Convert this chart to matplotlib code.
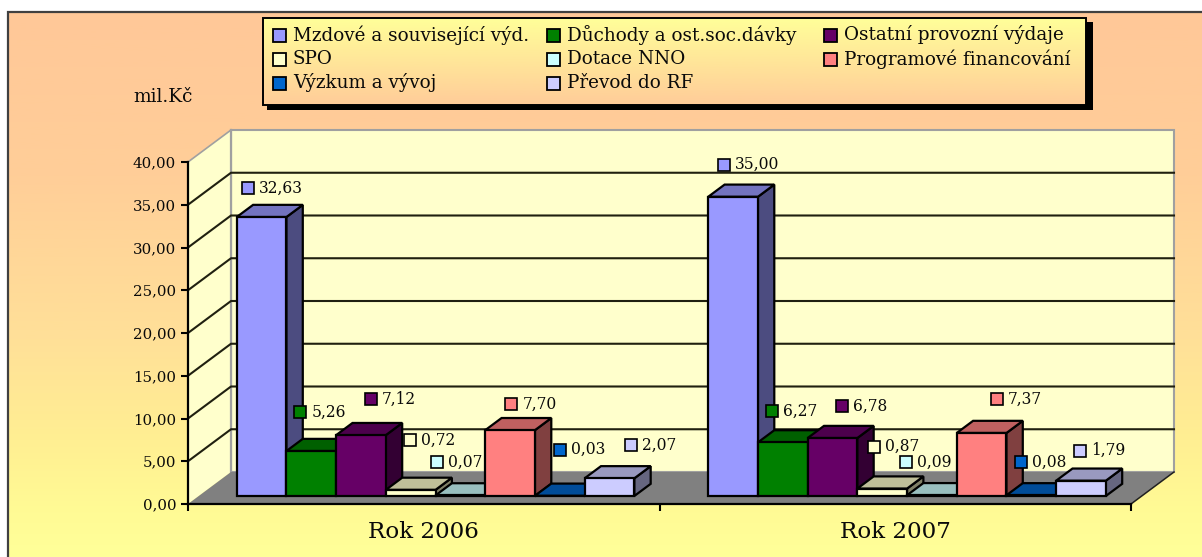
import numpy as np
import matplotlib
matplotlib.use("Agg")
import matplotlib.pyplot as plt
from matplotlib.colors import LinearSegmentedColormap
from matplotlib.patches import Rectangle

years = ["Rok 2006", "Rok 2007"]
series_names = ["Mzdové a související výd.", "Důchody a ost.soc.dávky", "Ostatní provozní výdaje",
                "SPO", "Dotace NNO", "Programové financování", "Výzkum a vývoj", "Převod do RF"]
values_2006 = [32.63, 5.26, 7.12, 0.72, 0.07, 7.70, 0.03, 2.07]
values_2007 = [35.00, 6.27, 6.78, 0.87, 0.09, 7.37, 0.08, 1.79]
colors = ["#9999FF", "#008000", "#660066", "#FFFFCC", "#CCFFFF", "#FF8080", "#0066CC", "#CCCCFF"]
tops = ["#7373BF", "#006000", "#4C004C", "#BFBF99", "#99BFBF", "#BF6060", "#004C99", "#9999BF"]
sides = ["#4C4C80", "#004000", "#330033", "#808066", "#668080", "#804040", "#003366", "#666680"]
y_ticks = [0, 5, 10, 15, 20, 25, 30, 35, 40]

# label offsets from each bar's front-top-left corner, pixels (right, up)
label_off_2006 = [(11, 29), (14, 39), (35, 36), (24, 50), (1, 33), (26, 26), (25, 46), (46, 33)]
label_off_2007 = [(16, 32), (14, 31), (34, 32), (17, 42), (-1, 33), (40, 34), (15, 33), (24, 30)]

W, H = 1202, 557
FONT = "DejaVu Serif"
INK = "#0A0A0A"
px = 72 / 100  # points per pixel
fig = plt.figure(figsize=(W / 100, H / 100), dpi=100)
fig.patch.set_facecolor("white")

# page background
bg = fig.add_axes([0, 0, 1, 1], zorder=0)
bg.axis("off")
peach_yellow = LinearSegmentedColormap.from_list(
    "py", [(0, "#FFC898"), (0.3, "#FFCE98"), (0.6, "#FFE098"), (0.8, "#FFF092"), (0.92, "#FFFB95"), (1, "#FFFF99")])
grad = np.linspace(0, 1, 256).reshape(-1, 1)
bg.imshow(grad, cmap=peach_yellow, extent=[8, W, H, 12], aspect="auto")
bg.set_xlim(0, W); bg.set_ylim(H, 0)
bg.plot([8, 8, W], [H, 12, 12], color="#404040", lw=1.6, solid_joinstyle="miter")

# chart axes: front plane of the 3-D box
L, R, T, B = 188, 1131, 162, 504
ax = fig.add_axes([L / W, 1 - B / H, (R - L) / W, (B - T) / H], zorder=1)
ax.set_xlim(0, 2); ax.set_ylim(0, 40)
ax.patch.set_alpha(0)
xpx = (R - L) / 2   # pixels per category
ypx = (B - T) / 40  # pixels per unit
DX, DY = 43 / xpx, 32 / ypx

def proj(x, v, d):
    return x + d * DX, v + d * DY

def poly(points, **kw):
    xs, ys = zip(*[proj(*p) for p in points])
    ax.fill(xs, ys, clip_on=False, **kw)

WALL = "#FFFFCC"
GREY = "#A0A0A0"
poly([(0, 0, 1), (2, 0, 1), (2, 40, 1), (0, 40, 1)], fc=WALL, ec=GREY, lw=1.5, zorder=1)
poly([(0, 0, 0), (0, 0, 1), (0, 40, 1), (0, 40, 0)], fc=WALL, ec="none", zorder=1)
ax.plot(*zip(proj(0, 40, 0), proj(0, 40, 1)), color=GREY, lw=1.2, clip_on=False, zorder=1)
ax.plot(*zip(proj(0, 0, 1), proj(0, 40, 1)), color=GREY, lw=1.6, clip_on=False, zorder=2)
poly([(0, 0, 0), (2, 0, 0), (2, 0, 1), (0, 0, 1)], fc="#808080", ec="none", zorder=2)
ax.plot(*zip(proj(2, 0, 0), proj(2, 0, 1)), color="#202020", lw=1.1, clip_on=False, zorder=2)

for t in y_ticks[1:-1]:
    a, b, c = proj(0, t, 0), proj(0, t, 1), proj(2, t, 1)
    ax.plot([a[0], b[0], c[0]], [a[1], b[1], c[1]], color="#202010", lw=1.5, clip_on=False, zorder=2)

# bars
BW = 49.7 / xpx
X0 = (237 - L - 11) / xpx
D1, D2 = 0.25, 0.63
edge = dict(ec="black", lw=1.6, joinstyle="miter")
z = 3
groups = [(values_2006, label_off_2006), (values_2007, label_off_2007)]
for g, (vals, offs) in enumerate(groups):
    for j, v in enumerate(vals):
        x = g + X0 + j * BW
        poly([(x + BW, 0, D1), (x + BW, 0, D2), (x + BW, v, D2), (x + BW, v, D1)], fc=sides[j], zorder=z, **edge)
        poly([(x, v, D1), (x + BW, v, D1), (x + BW, v, D2), (x, v, D2)], fc=tops[j], zorder=z, **edge)
        poly([(x, 0, D1), (x + BW, 0, D1), (x + BW, v, D1), (x, v, D1)], fc=colors[j], zorder=z, **edge)
        z += 0.01
for g, (vals, offs) in enumerate(groups):
    for j, v in enumerate(vals):
        fx, fy = proj(g + X0 + j * BW, v, D1)
        mx, my = fx + offs[j][0] / xpx, fy + offs[j][1] / ypx
        ax.plot([mx], [my], marker="s", ms=8.2, mfc=colors[j], mec="black", mew=1.2,
                clip_on=False, zorder=6)
        ax.text(mx + 11 / xpx, my, f"{v:.2f}".replace(".", ","), family=FONT, fontsize=15.5 * px,
                va="center", ha="left", color=INK, clip_on=False, zorder=6)

# axes furniture
for s in ["top", "right"]:
    ax.spines[s].set_visible(False)
for s in ["left", "bottom"]:
    ax.spines[s].set_linewidth(1.6); ax.spines[s].set_zorder(5)
ax.set_yticks(y_ticks)
ax.set_yticklabels([f"{t:.2f}".replace(".", ",") for t in y_ticks], family=FONT, fontsize=15 * px, color=INK)
ax.set_xticks([0, 1, 2]); ax.set_xticklabels([])
ax.set_xticks([0.5, 1.5], minor=True)
ax.set_xticklabels(years, minor=True, family=FONT, fontsize=23 * px, color=INK)
ax.tick_params(axis="x", which="minor", length=0, pad=12)
ax.tick_params(axis="both", which="major", length=5, width=1.5, pad=3.5)

# overlay: legend and unit label
ov = fig.add_axes([0, 0, 1, 1], zorder=2)
ov.axis("off"); ov.patch.set_alpha(0)
ov.text(133, 97, "mil.Kč", family=FONT, fontsize=18.5 * px, va="center", ha="left", color=INK)
LX0, LX1, LY0, LY1 = 263, 1086, 18, 105
ov.add_patch(Rectangle((267, 22), 1093 - 267, 110 - 22, fc="black", ec="none", zorder=1))
yc = LinearSegmentedColormap.from_list("yp", ["#FFFF99", "#FFCC99"])
ov.imshow(grad, cmap=yc, extent=[LX0, LX1, LY1, LY0], aspect="auto", zorder=2)
ov.set_xlim(0, W); ov.set_ylim(H, 0)
ov.add_patch(Rectangle((LX0, LY0), LX1 - LX0, LY1 - LY0, fc="none", ec="black", lw=1.4, zorder=3))
col_x = [273, 547, 824]
row_y = [35, 59, 83]
for i, name in enumerate(series_names):
    r, c = divmod(i, 3)
    ov.add_patch(Rectangle((col_x[c], row_y[r] - 6.5), 13, 13, fc=colors[i], ec="black", lw=1.3, zorder=4))
    ov.text(col_x[c] + 20, row_y[r], name, family=FONT, fontsize=18.4 * px, va="center", ha="left",
            color=INK, zorder=4)

fig.savefig("out.png", dpi=100)
